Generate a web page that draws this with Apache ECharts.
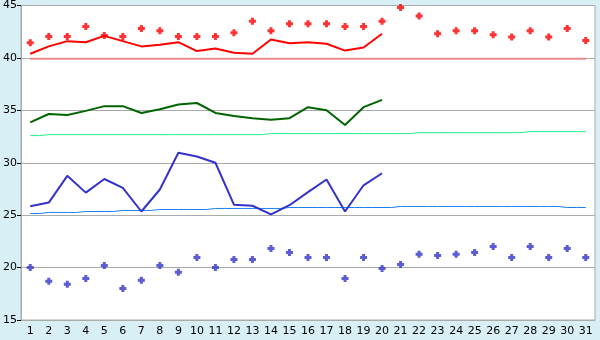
<!DOCTYPE html>
<html><head><meta charset="utf-8">
<script src="https://cdn.jsdelivr.net/npm/echarts@6/dist/echarts.min.js"></script>
<style>html,body{margin:0;padding:0;background:#d9eff6}#c{width:600px;height:340px}</style>
</head><body><div id="c"></div>
<script>
var days = ['1','2','3','4','5','6','7','8','9','10','11','12','13','14','15','16','17','18','19','20','21','22','23','24','25','26','27','28','29','30','31'];
var yTicks = [15,20,25,30,35,40,45];
var redLine = [40.4,41.1,41.6,41.5,42.1,41.6,41.1,41.25,41.5,40.65,40.9,40.5,40.4,41.75,41.4,41.5,41.35,40.7,41.0,42.3];
var redDots = [41.45,42.05,42.05,43.0,42.15,42.05,42.8,42.6,42.05,42.05,42.05,42.4,43.5,42.6,43.25,43.25,43.25,43.0,43.0,43.5,44.8,44.0,42.3,42.6,42.6,42.2,42.0,42.6,42.0,42.8,41.65];
var redRef = [39.92,39.92,39.92,39.92,39.92,39.92,39.92,39.92,39.92,39.92,39.92,39.92,39.92,39.92,39.92,39.92,39.92,39.92,39.92,39.92,39.92,39.92,39.92,39.92,39.92,39.92,39.92,39.92,39.92,39.92,39.92];
var greenLine = [33.85,34.65,34.55,34.95,35.4,35.4,34.75,35.1,35.55,35.7,34.75,34.45,34.25,34.1,34.25,35.3,35.0,33.6,35.3,36.0];
var greenRef = [32.59,32.68,32.68,32.68,32.68,32.68,32.68,32.68,32.68,32.68,32.68,32.68,32.68,32.78,32.78,32.78,32.78,32.78,32.78,32.78,32.78,32.87,32.87,32.87,32.87,32.87,32.87,32.97,32.97,32.97,32.97];
var blueLine = [25.85,26.2,28.75,27.15,28.45,27.6,25.35,27.45,30.95,30.6,30.0,26.0,25.9,25.07,25.95,27.2,28.4,25.35,27.85,29.0];
var blueDots = [20.0,18.7,18.4,18.97,20.2,18.0,18.78,20.2,19.55,20.97,20.0,20.78,20.78,21.83,21.45,20.97,20.97,18.97,20.97,19.92,20.3,21.26,21.16,21.26,21.45,22.02,20.97,22.02,20.97,21.83,20.97];
var blueRef = [25.16,25.26,25.26,25.35,25.35,25.45,25.45,25.54,25.54,25.54,25.64,25.64,25.64,25.64,25.73,25.73,25.73,25.73,25.73,25.73,25.83,25.83,25.83,25.83,25.83,25.83,25.83,25.83,25.83,25.73,25.73];

var star = 'path://M2,0H5V2H7V5H5V7H2V5H0V2H2Z';
var chart = echarts.init(document.getElementById('c'), null, {renderer:'canvas'});
var font = 'DejaVu Sans';
chart.setOption({
  backgroundColor: '#d9eff6',
  animation: false,
  grid: {left:20, right:5, top:5, bottom:20, show:true, backgroundColor:'#ffffff', borderColor:'#aaaaaa', borderWidth:1},
  xAxis: {
    type:'category', data: days, boundaryGap:true,
    axisLine:{lineStyle:{color:'#aaaaaa'}},
    axisTick:{alignWithLabel:true, length:4, lineStyle:{color:'#000'}},
    axisLabel:{color:'#000', fontFamily:font, fontSize:11, margin:6, interval:0},
    splitLine:{show:false}
  },
  yAxis: {
    type:'value', min:yTicks[0], max:yTicks[yTicks.length-1], interval:5,
    axisLine:{show:true, lineStyle:{color:'#aaaaaa'}},
    axisTick:{show:true, length:4, lineStyle:{color:'#000'}},
    axisLabel:{color:'#000', fontFamily:font, fontSize:11, margin:4},
    splitLine:{lineStyle:{color:'#aaaaaa'}}
  },
  series: [
    {type:'line', data:redRef, showSymbol:false, step:'middle', lineStyle:{color:'#f28a8a', width:2}, z:2},
    {type:'line', data:greenRef, showSymbol:false, step:'middle', lineStyle:{color:'#22ee88', width:1}, z:2},
    {type:'line', data:blueRef, showSymbol:false, step:'middle', lineStyle:{color:'#1a80ee', width:1}, z:2},
    {type:'line', data:redLine, showSymbol:false, lineStyle:{color:'#ff0000', width:2}, z:3},
    {type:'line', data:greenLine, showSymbol:false, lineStyle:{color:'#006400', width:2}, z:3},
    {type:'line', data:blueLine, showSymbol:false, lineStyle:{color:'#3333cc', width:2}, z:3},
    {type:'scatter', data:redDots, symbol:star, symbolSize:7, itemStyle:{color:'#ff0000'}, z:4},
    {type:'scatter', data:blueDots, symbol:star, symbolSize:7, itemStyle:{color:'#3333cc'}, z:4}
  ]
});
</script></body></html>
